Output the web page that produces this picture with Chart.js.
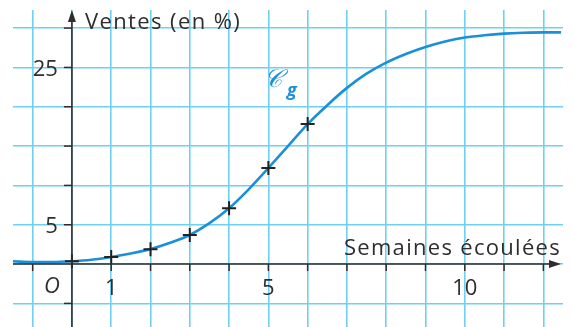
<!DOCTYPE html>
<html>
<head>
<meta charset="utf-8">
<script src="https://cdn.jsdelivr.net/npm/chart.js@4/dist/chart.umd.min.js"></script>
<style>
    html, body { margin: 0; padding: 0; background: #fff; }
    #wrap { width: 573px; height: 327px; }
</style>
</head>
<body>
<div id="wrap"><canvas id="salesChart" width="573" height="327"></canvas></div>
<script>
//.. curve g : weeks -> sales (%)
const curveWeeks = [-1.5, -1, -0.5, 0, 0.5, 1, 1.5, 2, 2.5, 3, 3.5, 4, 4.5, 5, 5.5, 6, 6.5, 7, 7.5, 8, 8.5, 9, 9.5, 10, 10.5, 11, 11.5, 12, 12.45];
const curveSales = [0.35, 0.25, 0.25, 0.35, 0.55, 0.9, 1.35, 1.9, 2.7, 3.7, 5.2, 7.1, 9.5, 12.2, 15.0, 17.8, 20.2, 22.4, 24.2, 25.6, 26.7, 27.6, 28.3, 28.8, 29.1, 29.3, 29.4, 29.45, 29.45];

//.. measured points
const pointWeeks = [0, 1, 2, 3, 4, 5, 6];
const pointSales = [0.35, 0.9, 1.9, 3.7, 7.1, 12.2, 17.8];

//.. axis labels
const xTickLabels = [[1, '1'], [5, '5'], [10, '10']];
const yTickLabels = [[5, '5'], [25, '25']];

const xRange = [-1.5, 12.5];
const yRange = [-8, 32.3];

const FONT = '"Open Sans", "Noto Sans", sans-serif';
const INK = '#2e2e2e';
const BLUE = '#1b8fd8';
const GRID = '#6fd0f2';

//.. Draw the arrowed axes, tick marks and texts over the grid
const axesPlugin = {
    id: 'axes',
    afterDatasetsDraw(chart) {
        const ctx = chart.ctx;
        const xs = chart.scales.x, ys = chart.scales.y;
        const area = chart.chartArea;
        const x0 = xs.getPixelForValue(0), y0 = ys.getPixelForValue(0);

        ctx.save();
        ctx.strokeStyle = INK;
        ctx.fillStyle = INK;
        ctx.lineWidth = 1.6;

        //.. x axis
        ctx.beginPath();
        ctx.moveTo(area.left, y0);
        ctx.lineTo(area.right - 6, y0);
        ctx.stroke();
        ctx.beginPath();
        ctx.moveTo(area.right - 2, y0);
        ctx.lineTo(area.right - 14, y0 - 4);
        ctx.lineTo(area.right - 14, y0 + 4);
        ctx.closePath();
        ctx.fill();

        //.. y axis
        ctx.beginPath();
        ctx.moveTo(x0, area.bottom);
        ctx.lineTo(x0, area.top + 6);
        ctx.stroke();
        ctx.beginPath();
        ctx.moveTo(x0, area.top);
        ctx.lineTo(x0 - 4, area.top + 12);
        ctx.lineTo(x0 + 4, area.top + 12);
        ctx.closePath();
        ctx.fill();

        //.. tick marks
        ctx.lineWidth = 1.5;
        for (let v = -1; v <= 12; v++) {
            if (v === 0) continue;
            const px = xs.getPixelForValue(v);
            ctx.beginPath();
            ctx.moveTo(px, y0);
            ctx.lineTo(px, y0 + 7);
            ctx.stroke();
        }
        for (let v = -5; v <= 30; v += 5) {
            if (v === 0) continue;
            const py = ys.getPixelForValue(v);
            ctx.beginPath();
            ctx.moveTo(x0, py);
            ctx.lineTo(x0 - 8, py);
            ctx.stroke();
        }

        //.. tick labels
        ctx.font = '22px ' + FONT;
        ctx.textBaseline = 'middle';
        ctx.textAlign = 'center';
        xTickLabels.forEach(function (t) {
            ctx.fillText(t[1], xs.getPixelForValue(t[0]), y0 + 25);
        });
        ctx.textAlign = 'right';
        yTickLabels.forEach(function (t) {
            ctx.fillText(t[1], x0 - 14, ys.getPixelForValue(t[0]) + 2);
        });
        ctx.textAlign = 'center';
        ctx.font = 'italic 22px ' + FONT;
        ctx.fillText('O', x0 - 20, y0 + 23);

        //.. axis titles
        ctx.font = '22px ' + FONT;
        ctx.letterSpacing = '1.4px';
        ctx.textAlign = 'left';
        ctx.textBaseline = 'alphabetic';
        ctx.fillText('Ventes (en %)', x0 + 13, 29);
        ctx.textAlign = 'right';
        ctx.letterSpacing = '1.3px';
        ctx.fillText('Semaines écoulées', area.right - 2, y0 - 9);
        ctx.letterSpacing = '0px';

        //.. curve name
        ctx.fillStyle = BLUE;
        ctx.textAlign = 'left';
        ctx.font = 'italic 25px "DejaVu Serif", serif';
        ctx.fillText('𝒞', 264, 87);
        ctx.font = 'italic bold 18px ' + FONT;
        ctx.fillText('g', 287, 96);
        ctx.restore();
    }
};

//.. Grid ticks: every week on x, every 5 % on y
function integerTicks(from, to, step) {
    const out = [];
    for (let v = from; v <= to; v += step) out.push({value: v});
    return out;
}

const ctx = document.getElementById('salesChart').getContext('2d');
new Chart(ctx, {
    type: 'scatter',
    data: {
        datasets: [{
            label: 'g',
            data: curveWeeks.map(function (w, i) { return {x: w, y: curveSales[i]}; }),
            showLine: true,
            borderColor: BLUE,
            borderWidth: 2.6,
            pointRadius: 0,
            cubicInterpolationMode: 'monotone',
            order: 2
        }, {
            label: 'points',
            data: pointWeeks.map(function (w, i) { return {x: w, y: pointSales[i]}; }),
            showLine: false,
            pointStyle: 'cross',
            pointRadius: 7,
            pointBorderWidth: 2,
            pointBorderColor: '#222',
            order: 1
        }]
    },
    options: {
        responsive: false,
        animation: false,
        layout: {autoPadding: false, padding: {left: 13, right: 10, top: 10, bottom: 0}},
        plugins: {
            legend: {display: false},
            tooltip: {enabled: false}
        },
        scales: {
            x: {
                type: 'linear',
                min: xRange[0],
                max: xRange[1],
                ticks: {display: false},
                afterBuildTicks: function (scale) { scale.ticks = integerTicks(-1, 12, 1); },
                afterFit: function (scale) { scale.height = 0; },
                grid: {color: GRID, lineWidth: 1.6, drawTicks: false},
                border: {display: false}
            },
            y: {
                type: 'linear',
                min: yRange[0],
                max: yRange[1],
                ticks: {display: false},
                afterBuildTicks: function (scale) { scale.ticks = integerTicks(-5, 30, 5); },
                afterFit: function (scale) { scale.width = 0; },
                grid: {color: GRID, lineWidth: 1.6, drawTicks: false},
                border: {display: false}
            }
        }
    },
    plugins: [axesPlugin]
});
</script>
</body>
</html>
